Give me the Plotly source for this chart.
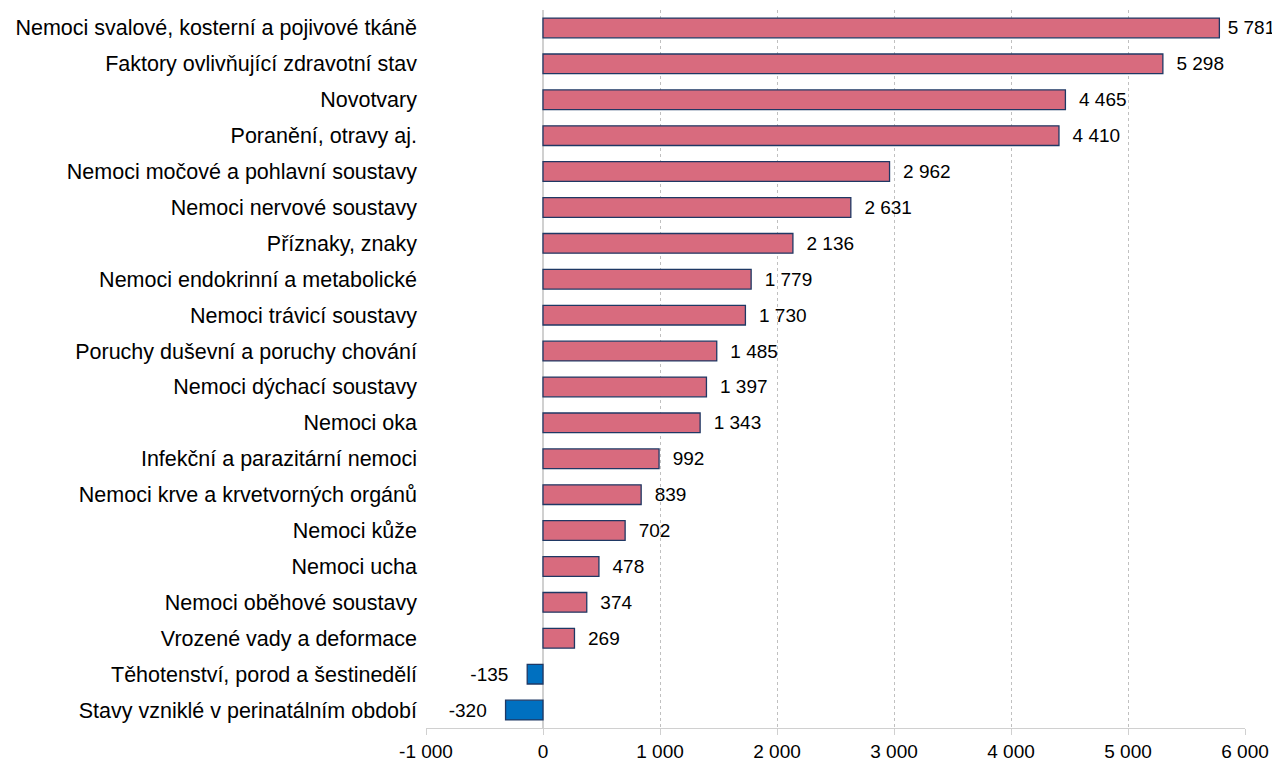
import plotly.graph_objects as go

kategorie = ["Nemoci svalové, kosterní a pojivové tkáně", "Faktory ovlivňující zdravotní stav",
             "Novotvary", "Poranění, otravy aj.", "Nemoci močové a pohlavní soustavy",
             "Nemoci nervové soustavy", "Příznaky, znaky", "Nemoci endokrinní a metabolické",
             "Nemoci trávicí soustavy", "Poruchy duševní a poruchy chování", "Nemoci dýchací soustavy",
             "Nemoci oka", "Infekční a parazitární nemoci", "Nemoci krve a krvetvorných orgánů",
             "Nemoci kůže", "Nemoci ucha", "Nemoci oběhové soustavy", "Vrozené vady a deformace",
             "Těhotenství, porod a šestinedělí", "Stavy vzniklé v perinatálním období"]
hodnoty = [5781, 5298, 4465, 4410, 2962, 2631, 2136, 1779, 1730, 1485, 1397, 1343,
           992, 839, 702, 478, 374, 269, -135, -320]
osa_x = [-1000, 0, 1000, 2000, 3000, 4000, 5000, 6000]

barvy = ['#d86b7e' if v > 0 else '#0070c0' for v in hodnoty]
texty = [("  " + f"{v:,}".replace(",", " ")) if v > 0 else (f"{v}" + "   ") for v in hodnoty]
texty[0] = " " + texty[0].strip()

fig = go.Figure()
fig.add_trace(go.Bar(x=hodnoty, y=kategorie, orientation='h',
                     marker=dict(color=barvy, line=dict(color='#1f3864', width=1.3)),
                     width=0.55, text=texty, textposition='outside', cliponaxis=False,
                     constraintext='none',
                     textfont=dict(size=19, color='black')))

fig.update_yaxes(autorange='reversed', showgrid=False, ticks='', ticklabelstandoff=8,
                 automargin=False, tickfont=dict(size=21.5, color='black'))
fig.update_xaxes(range=[-1000, 6000], tickvals=osa_x, automargin=False,
                 ticktext=[f"{v:,}".replace(",", " ") for v in osa_x], showgrid=True,
                 gridcolor='#c0c0c0', griddash='dot', zeroline=True, zerolinecolor='#d0d0d0',
                 zerolinewidth=1.5, showline=True, linecolor='#d0d0d0', ticks='outside',
                 tickcolor='#d0d0d0', ticklen=6, tickfont=dict(size=19, color='black'))

fig.update_layout(width=1280, height=762, plot_bgcolor='white',
                  paper_bgcolor='white', font=dict(family='Liberation Sans'),
                  margin=dict(l=418, r=43, t=2, b=42), showlegend=False, bargap=0.45)

fig.write_html("out.html")
